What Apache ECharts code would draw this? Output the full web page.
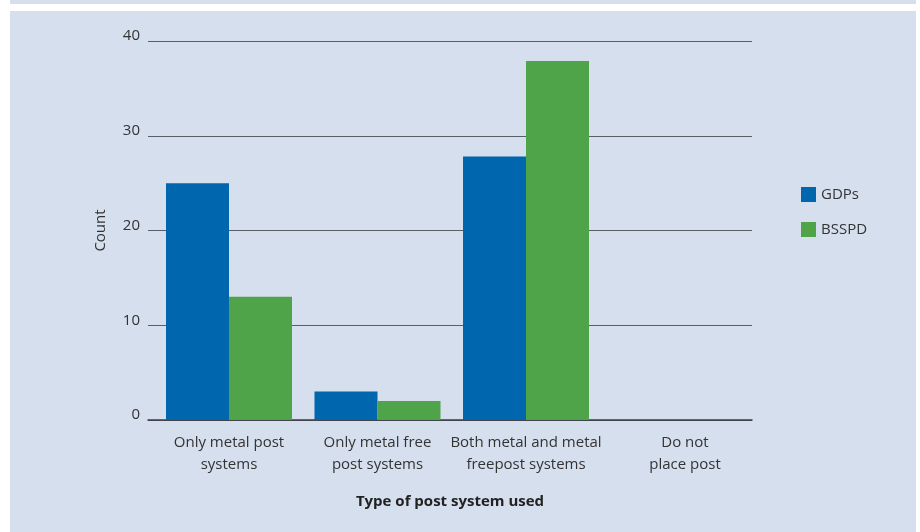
<!DOCTYPE html>
<html><head><meta charset="utf-8">
<script src="https://cdn.jsdelivr.net/npm/echarts@6/dist/echarts.min.js"></script>
<style>html,body{margin:0;padding:0;background:#fff}#c{width:920px;height:532px}</style>
</head><body><div id="c"></div>
<script>
const categories = ['Only metal post\nsystems', 'Only metal free\npost systems', 'Both metal and metal\nfreepost systems', 'Do not\nplace post'];
const gdps = [25, 3, 27.8, 0];
const bsspd = [13, 2, 37.9, 0];
const yTicks = [0, 10, 20, 30, 40];

const font = '"Open Sans", "Noto Sans", sans-serif';
const labelData = categories.map((c, i) => i === categories.length - 1 ? { value: c, textStyle: { padding: [0, 0, 0, 21] } } : c);
const chart = echarts.init(document.getElementById('c'));
chart.setOption({
  backgroundColor: 'transparent',
  animation: false,
  textStyle: { fontFamily: font },
  graphic: [
    { type: 'rect', shape: { x: 10, y: 0, width: 906, height: 4 }, style: { fill: '#d5dfee' }, z: -10 },
    { type: 'rect', shape: { x: 10, y: 11, width: 906, height: 521 }, style: { fill: '#d5dfee' }, z: -10 }
  ],
  legend: {
    orient: 'vertical', left: 796, top: 182, itemGap: 20,
    itemWidth: 15, itemHeight: 15, icon: 'rect',
    textStyle: { fontSize: 15, color: '#333', fontFamily: font },
    data: ['GDPs', 'BSSPD']
  },
  grid: [
    { left: 148, right: 168, top: 41, bottom: 112, containLabel: false },
    { left: 154.75, width: 594, top: 41, bottom: 112, containLabel: false }
  ],
  xAxis: [{
    type: 'category', gridIndex: 0, data: categories,
    name: 'Type of post system used', nameLocation: 'middle', nameGap: 74,
    nameTextStyle: { fontSize: 15, fontWeight: 'bold', color: '#222', fontFamily: font },
    axisLine: { lineStyle: { color: '#3a3d42', width: 1.5 } },
    axisTick: { inside: true, length: 9, lineStyle: { color: '#3a3d42', width: 1.5 } },
    axisLabel: { show: false }
  }, {
    type: 'category', gridIndex: 1, data: labelData,
    axisLine: { show: false }, axisTick: { show: false },
    axisLabel: { fontSize: 15, color: '#333', lineHeight: 22, margin: 12, interval: 0 }
  }],
  yAxis: [{
    type: 'value', gridIndex: 0, min: yTicks[0], max: yTicks[yTicks.length - 1], interval: 10,
    name: 'Count', nameLocation: 'middle', nameGap: 40,
    nameTextStyle: { fontSize: 15, color: '#333', fontFamily: font },
    axisLine: { show: false }, axisTick: { show: false },
    axisLabel: { fontSize: 15, color: '#333', margin: 8, verticalAlign: 'bottom', lineHeight: 10 },
    splitLine: { lineStyle: { color: '#5a5e66', width: 1.2 } }
  }, {
    type: 'value', gridIndex: 1, min: yTicks[0], max: yTicks[yTicks.length - 1], interval: 10,
    show: false, splitLine: { show: false }
  }],
  series: [
    { name: 'GDPs', type: 'bar', xAxisIndex: 1, yAxisIndex: 1, data: gdps, barGap: '0%', barWidth: 63, itemStyle: { color: '#0066ae' } },
    { name: 'BSSPD', type: 'bar', xAxisIndex: 1, yAxisIndex: 1, data: bsspd, barWidth: 63, itemStyle: { color: '#4fa349' } }
  ]
});
</script></body></html>
